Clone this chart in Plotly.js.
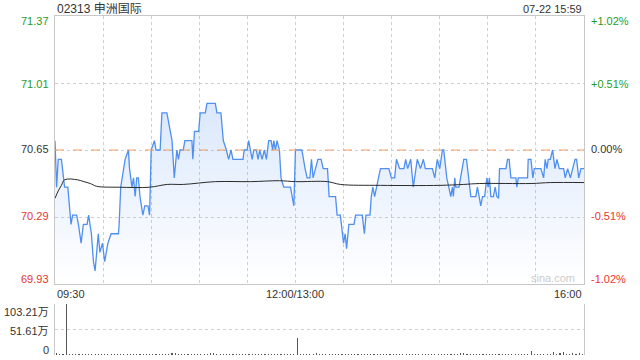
<!DOCTYPE html>
<html>
<head>
<meta charset="utf-8">
<script src="https://cdn.plot.ly/plotly-3.0.1.min.js"></script>
<style>html,body{margin:0;padding:0;background:#fff;}#chart{width:640px;height:360px;}</style>
</head>
<body>
<div id="chart"></div>
<script>
// ---- data ----
var stockTitle = "02313 申洲国际";
var stampText = "07-22 15:59";
var prevClose = 70.65;
var priceMin = 69.93, priceMax = 71.37;
var priceTickLabels = ["71.37", "71.01", "70.65", "70.29", "69.93"];
var priceTickValues = [71.37, 71.01, 70.65, 70.29, 69.93];
var pctTickLabels = ["+1.02%", "+0.51%", "0.00%", "-0.51%", "-1.02%"];
var timeLabels = ["09:30", "12:00/13:00", "16:00"];
var timeLabelPos = [0, 150, 330];
var volTickLabels = ["103.21万", "51.61万", "0"];
var volTickValues = [103.21, 51.605, 0];

// minutes since 09:30 (lunch break removed)
var priceTimes = [0,1,2,4,6,8,10,11,13.5,14.6,16.3,17.7,20,21,22.7,24,25,26,27,28,29.6,31,33,35,39.6,40,41,43.75,45.8,46.5,48,49,50,51,52,53,54.8,56,58,59,60,62,63,65.6,66.7,69.8,70.8,73,74.4,76,77,78,80,81,85.4,86,87,89.6,90.6,93.75,94.8,100,101,103.5,105,106.9,108.3,109.8,111,117.3,118,119.8,120.8,121.9,123,124,125.6,126.7,127.7,129.2,130.6,131.9,133.3,134.8,135.8,136.5,137.5,138.5,140,141,142.7,146.9,147.9,149,150,154,156,157.3,159,160,161,162.5,164,166,167.3,170,171,175,176,178,179.2,180,181,181.9,183.3,186.5,187.5,191.7,193,194,196.5,197.3,198.3,199.4,200.6,203,208.3,209.8,211.9,213,215,217.7,218.75,220,221.9,223.5,226,228,229.8,231,235.4,236.9,238.5,240,241.7,242.5,244.4,245.8,246.9,247.9,248.5,249.4,250,252,253,255,256.7,259.4,262.5,263.5,264.6,265.6,266.7,268,269.4,270.2,271,271.9,273.5,274.6,275.6,276.7,277.3,281.3,282.3,283.3,284.4,287.5,288.1,289,294.8,295.2,296.9,298.1,299,303.1,304.8,305.8,306.9,307.7,309,310.4,311.9,313.1,314.6,317.3,318.3,319.8,321.5,323,324.4,325.4,326.7,328.1,330];
var prices = [70.70,70.45,70.60,70.60,70.45,70.45,70.25,70.30,70.30,70.25,70.15,70.25,70.25,70.30,70.20,70.05,70.00,70.10,70.20,70.10,70.15,70.05,70.15,70.20,70.20,70.25,70.45,70.60,70.65,70.55,70.45,70.50,70.40,70.50,70.50,70.40,70.30,70.35,70.35,70.30,70.65,70.70,70.65,70.65,70.85,70.85,70.80,70.70,70.50,70.65,70.60,70.65,70.65,70.70,70.70,70.60,70.75,70.75,70.85,70.85,70.90,70.90,70.85,70.85,70.70,70.65,70.60,70.65,70.60,70.60,70.65,70.65,70.70,70.65,70.60,70.65,70.65,70.60,70.65,70.60,70.65,70.60,70.70,70.70,70.65,70.70,70.65,70.70,70.65,70.50,70.45,70.45,70.40,70.35,70.65,70.65,70.55,70.50,70.50,70.60,70.50,70.55,70.60,70.60,70.55,70.55,70.40,70.40,70.30,70.30,70.20,70.15,70.20,70.12,70.25,70.25,70.30,70.30,70.20,70.30,70.30,70.40,70.45,70.40,70.45,70.55,70.55,70.50,70.50,70.60,70.55,70.55,70.60,70.55,70.60,70.45,70.60,70.55,70.60,70.55,70.55,70.50,70.60,70.55,70.65,70.65,70.50,70.45,70.40,70.45,70.40,70.50,70.45,70.45,70.50,70.60,70.60,70.40,70.40,70.45,70.40,70.35,70.40,70.40,70.50,70.45,70.50,70.40,70.40,70.45,70.40,70.39,70.55,70.55,70.60,70.60,70.50,70.50,70.45,70.50,70.50,70.60,70.60,70.50,70.55,70.55,70.50,70.60,70.55,70.60,70.60,70.65,70.55,70.60,70.55,70.55,70.50,70.55,70.50,70.55,70.60,70.60,70.50,70.55,70.55];

var avgTimes = [0,2,4,6,14,18,22,26,40,59,70,80,100,122,140,150,170,178,203,240,255,265,297,309,330];
var avgPrices = [70.39,70.43,70.46,70.49,70.49,70.48,70.47,70.455,70.45,70.45,70.465,70.465,70.48,70.48,70.485,70.48,70.48,70.465,70.46,70.46,70.465,70.47,70.47,70.475,70.475];

var volTimes = [1,3,5,7,9,11,13,15,17,19,21,23,25,27,29,31,33,35,37,39,41,43,45,47,49,51,53,55,57,59,61,63,65,67,69,71,73,75,77,79,81,83,85,87,89,91,93,95,97,99,101,103,105,107,109,111,113,115,117,119,121,123,125,127,129,131,133,135,137,139,141,143,145,147,149,151,153,155,157,159,161,163,165,167,169,171,173,175,177,179,181,183,185,187,189,191,193,195,197,199,201,203,205,207,209,211,213,215,217,219,221,223,225,227,229,231,233,235,237,239,241,243,245,247,249,251,253,255,257,259,261,263,265,267,269,271,273,275,277,279,281,283,285,287,289,291,293,295,297,299,301,303,305,307,309,311,313,315,317,319,321,323,325,327,329];
var volumes = [4,2,3,103.21,3,2,3,2,2,3,2,2,3,2,2,3,2,2,3,2,2,3,2,3,2,2,3,2,2,3,2,3,2,2,3,2,4,5,2,3,2,2,3,2,2,3,2,2,4,5,2,2,3,2,2,3,2,3,2,2,3,2,2,3,2,2,3,2,2,3,2,2,3,2,3,34,3,2,3,2,3,4,2,2,3,2,2,3,2,3,2,2,3,2,2,3,2,2,3,2,3,2,2,3,2,2,3,2,2,3,2,3,2,2,3,2,3,2,2,3,2,2,3,2,3,2,4,5,3,2,3,2,2,3,2,3,2,2,3,2,2,3,2,2,3,2,3,2,9,3,2,3,3,2,3,6,3,4,6,3,2,5,3,4,3];

// ---- layout helpers (pixel positions) ----
var L = 55, R = 584, T = 16, B = 355;
function px(x){ return (x - L) / (R - L); }
function py(y){ return (B - y) / (B - T); }

var green = '#1f9d1f', red = '#e8362f', dark = '#333333';
var fontFam = 'Liberation Sans, Arial, "Noto Sans CJK SC", sans-serif';
var priceColors = [green, green, dark, red, red];
var leftLabelY = [21, 84, 149, 216, 279];

var annotations = [];
function addText(text, x, y, xanchor, color, size){
  annotations.push({text: text, xref: 'paper', yref: 'paper', x: px(x), y: py(y),
    xanchor: xanchor, yanchor: 'middle', showarrow: false,
    font: {family: fontFam, size: size || 11, color: color || dark}});
}
addText(stockTitle, 55, 9, 'left', dark, 12);
addText(stampText, 584, 9, 'right', dark, 11);
for (var i = 0; i < priceTickLabels.length; i++){
  addText(priceTickLabels[i], 51, leftLabelY[i], 'right', priceColors[i], 11);
  addText(pctTickLabels[i], 589, leftLabelY[i], 'left', priceColors[i], 11);
}
var xLabelPx = [55, 295, 584], xAnch = ['left', 'center', 'right'];
for (var j = 0; j < timeLabels.length; j++){
  addText(timeLabels[j], xLabelPx[j], 294, xAnch[j], dark, 11);
}
addText("sina.com", 577, 278, 'right', '#cccccc', 11);
var volLabelY = [312, 331, 350];
for (var k = 0; k < volTickLabels.length; k++){
  addText(volTickLabels[k], 51, volLabelY[k], 'right', dark, 11);
}

var traces = [
  {x: [0, 330], y: [priceMin, priceMin], mode: 'lines', line: {width: 0, color: 'rgba(0,0,0,0)'},
   hoverinfo: 'skip', showlegend: false, xaxis: 'x', yaxis: 'y'},
  {x: priceTimes, y: prices, mode: 'lines', fill: 'tonexty',
   fillgradient: {type: 'vertical', start: priceMin, stop: 70.90,
     colorscale: [[0, 'rgba(90,150,240,0.0)'], [1, 'rgba(90,150,240,0.22)']]},
   line: {color: '#4f8ff0', width: 1.3}, showlegend: false, xaxis: 'x', yaxis: 'y'},
  {x: avgTimes, y: avgPrices, mode: 'lines', line: {color: '#2b2b2b', width: 1, shape: 'spline'},
   showlegend: false, xaxis: 'x', yaxis: 'y'},
  {x: volTimes, y: volumes, type: 'bar', width: 0.7, marker: {color: '#555555', line: {width: 0}},
   showlegend: false, xaxis: 'x2', yaxis: 'y2'}
];

var layout = {
  width: 640, height: 360, autosize: false,
  margin: {l: L, r: 640 - R, t: T, b: 360 - B, pad: 0},
  paper_bgcolor: '#ffffff', plot_bgcolor: '#ffffff',
  font: {family: fontFam, size: 11, color: dark},
  xaxis: {range: [0, 330], tickvals: [30,60,90,120,150,180,210,240,270,300], showticklabels: false,
    ticks: '', showgrid: true, gridcolor: '#cfcfcf', griddash: 'dot', gridwidth: 1,
    showline: true, mirror: true, linecolor: '#c8c8c8', linewidth: 1, zeroline: false,
    anchor: 'y', fixedrange: true},
  yaxis: {range: [priceMin, priceMax], domain: [py(284), 1], tickvals: [71.01, 70.65, 70.29],
    showticklabels: false, ticks: '', showgrid: true, gridcolor: '#cfcfcf', griddash: 'dot',
    showline: true, mirror: true, linecolor: '#c8c8c8', linewidth: 1, zeroline: false, anchor: 'x'},
  xaxis2: {range: [0, 330], showticklabels: false, ticks: '', showgrid: false, showline: false,
    zeroline: false, anchor: 'y2'},
  yaxis2: {range: [0, 103.21], domain: [0, py(304)], tickvals: [51.605, 103.21], showticklabels: false,
    ticks: '', showgrid: true, gridcolor: '#cfcfcf', griddash: 'dot', showline: true, mirror: true,
    linecolor: '#c8c8c8', linewidth: 1, zeroline: false, anchor: 'x2'},
  shapes: [
    {type: 'line', xref: 'x', yref: 'y', x0: 0, x1: 330, y0: prevClose, y1: prevClose,
     line: {color: '#f2a06a', width: 1, dash: 'dash'}}
  ],
  annotations: annotations,
  bargap: 0
};

Plotly.newPlot('chart', traces, layout, {displayModeBar: false, staticPlot: true});
</script>
</body>
</html>
